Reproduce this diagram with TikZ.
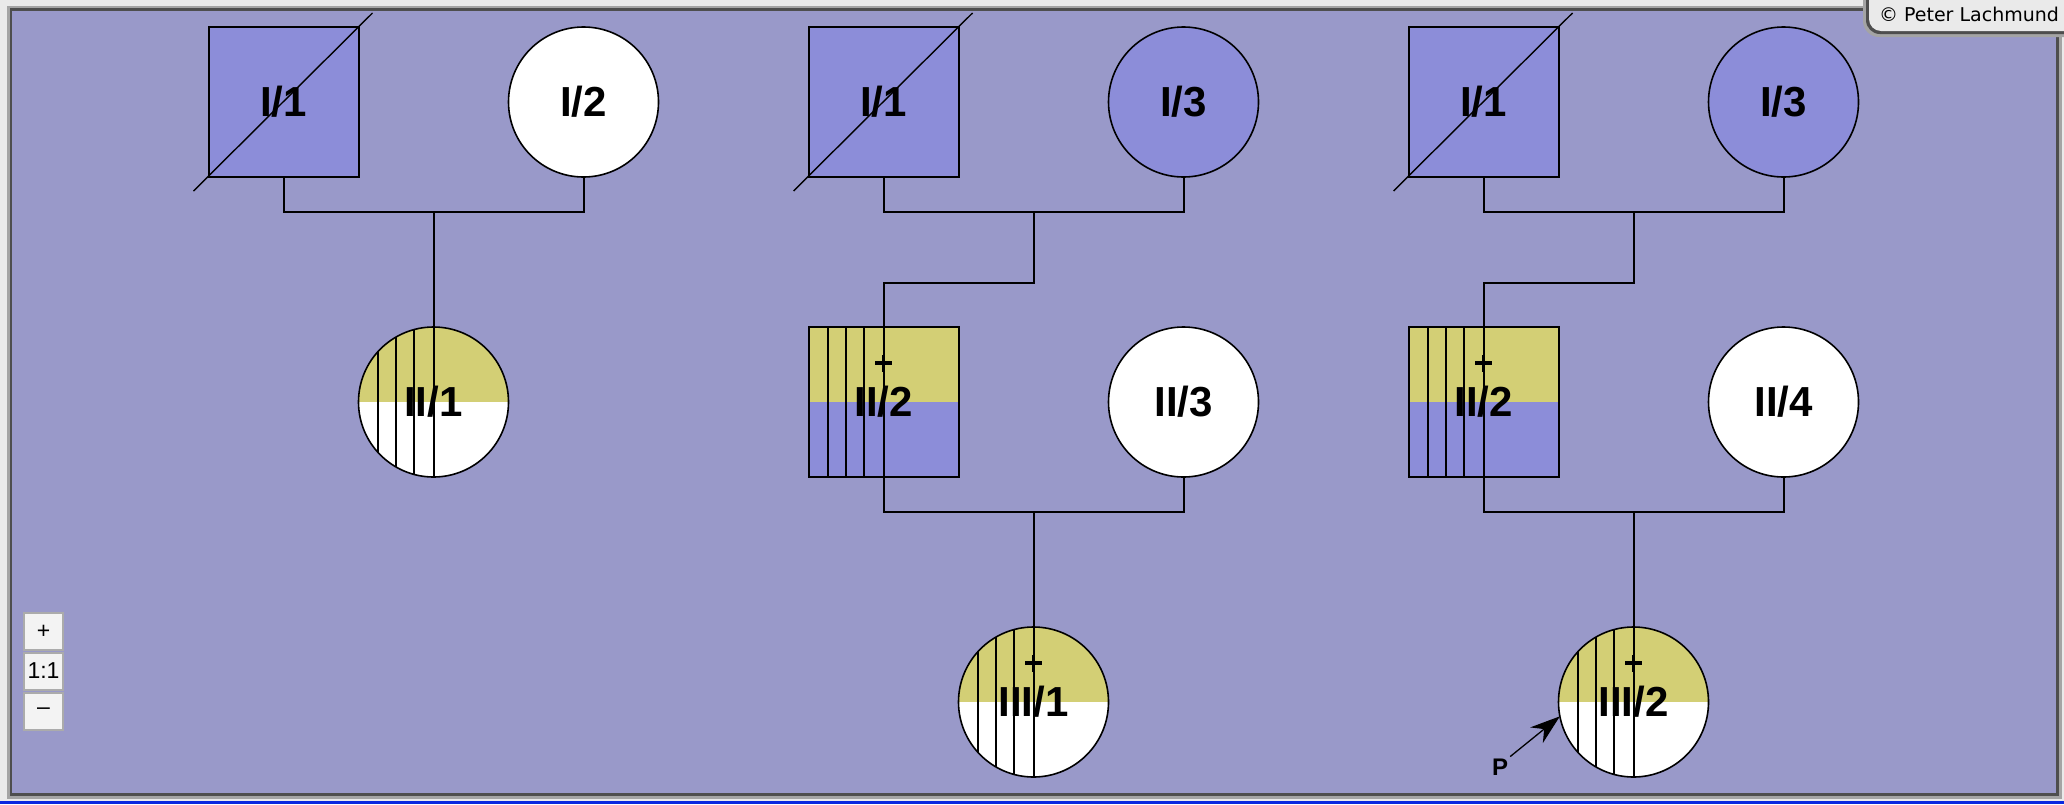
\documentclass[tikz,border=0pt]{standalone}
\usepackage{fontspec}
\setmainfont{Liberation Sans}
\newfontfamily\uifont{DejaVu Sans}
\usetikzlibrary{calc,arrows.meta}

\definecolor{pagebg}{HTML}{9999C9}
\definecolor{symblue}{HTML}{8C8DD9}
\definecolor{halfyellow}{HTML}{D3CF75}
\definecolor{framelight}{HTML}{EAEAEA}
\definecolor{framegray}{HTML}{A4A4A4}
\definecolor{framedark}{HTML}{4E4E4E}
\definecolor{btnborder}{HTML}{ABABAB}
\definecolor{btnfill}{HTML}{F3F3F3}
\definecolor{barblue}{HTML}{0A28E0}

\newcommand{\lbl}{\fontsize{42}{48}\selectfont\bfseries}

\begin{document}
\begin{tikzpicture}[x=1pt, y=-1pt,
    male/.style={rectangle, draw, line width=2pt, minimum size=150pt, inner sep=0pt, outer sep=0pt, font=\lbl},
    female/.style={circle, draw, line width=1.6pt, minimum size=150pt, inner sep=0pt, outer sep=0pt, font=\lbl},
    carrier/.style={path picture={
        \fill[halfyellow] (path picture bounding box.north west) rectangle (path picture bounding box.east);
        \foreach \d in {-56,-38,-20,0}
            \draw[line width=2pt] ([xshift=\d pt]path picture bounding box.north) -- ([xshift=\d pt]path picture bounding box.south);
    }},
    line/.style={line width=2pt},
    deceased/.style={line width=1.4pt},
    plusmark/.style={line width=3.4pt},
    zoombtn/.style={rectangle, draw=btnborder, line width=2pt, fill=btnfill, minimum width=39pt, minimum height=37pt, inner sep=0pt, font=\fontsize{23}{26}\selectfont}]

    % window frame
    \useasboundingbox (0,0) rectangle (2064,804);
    \fill[framelight] (0,0) rectangle (2064,804);
    \fill[framegray] (7,6) rectangle (2062,799);
    \fill[framedark] (10,8) rectangle (2059,796);
    \fill[pagebg] (12,11) rectangle (2056,793);
    \fill[barblue] (0,801) rectangle (2064,804);
    \fill[framegray, rounded corners=16] (1863,-20) -- (1863,37) -- (2090,37) -- (2090,-20) -- cycle;
    \fill[framedark, rounded corners=14] (1866,-20) -- (1866,34) -- (2090,34) -- (2090,-20) -- cycle;
    \fill[framelight, rounded corners=12] (1869,-20) -- (1869,31) -- (2090,31) -- (2090,-20) -- cycle;
    \node[anchor=base, inner sep=0pt, font=\uifont\fontsize{19}{22}\selectfont] (copy) at (1969,21) {© Peter Lachmund};

    % zoom buttons
    \node[zoombtn] (zin) at (43.5,631.5) {+};
    \node[zoombtn] (zone) at (43.5,671) {1:1};
    \node[zoombtn] (zout) at (43.5,711.5) {–};

    % first family
    \node[male, fill=symblue] (A11) at (283.5,102) {I/1};
    \node[female, fill=white] (A12) at (583.5,102) {I/2};
    \node[female, fill=white, carrier] (A21) at (433.5,402) {II/1};

    % second family
    \node[male, fill=symblue] (B11) at (883.5,102) {I/1};
    \node[female, fill=symblue] (B13) at (1183.5,102) {I/3};
    \node[male, fill=symblue, carrier] (B22) at (883.5,402) {II/2};
    \node[female, fill=white] (B23) at (1183.5,402) {II/3};
    \node[female, fill=white, carrier] (B31) at (1033.5,702) {III/1};

    % third family
    \node[male, fill=symblue] (C11) at (1483.5,102) {I/1};
    \node[female, fill=symblue] (C13) at (1783.5,102) {I/3};
    \node[male, fill=symblue, carrier] (C22) at (1483.5,402) {II/2};
    \node[female, fill=white] (C24) at (1783.5,402) {II/4};
    \node[female, fill=white, carrier] (C32) at (1633.5,702) {III/2};

    % deceased
    \foreach \n in {A11, B11, C11}{
        \draw[deceased] ($(\n)+(-90,89)$) -- ($(\n)+(89,-89)$);
    }

    % plus marks
    \foreach \n in {B22, B31, C22, C32}{
        \draw[plusmark] ($(\n)+(-8.5,-39)$) -- ($(\n)+(8.5,-39)$);
        \draw[plusmark] ($(\n)+(0,-47.5)$) -- ($(\n)+(0,-30.5)$);
    }

    % couples and children
    \draw[line] (A11.south) -- ++(0,35) -| (A12.south);
    \coordinate (A1m) at ($(A11.south)!0.5!(A12.south)+(0,35)$);
    \draw[line] (A1m) -- (A21.north);

    \draw[line] (B11.south) -- ++(0,35) -| (B13.south);
    \coordinate (B1m) at ($(B11.south)!0.5!(B13.south)+(0,35)$);
    \draw[line] (B1m) -- ++(0,71) -| (B22.north);
    \draw[line] (B22.south) -- ++(0,35) -| (B23.south);
    \coordinate (B2m) at ($(B22.south)!0.5!(B23.south)+(0,35)$);
    \draw[line] (B2m) -- (B31.north);

    \draw[line] (C11.south) -- ++(0,35) -| (C13.south);
    \coordinate (C1m) at ($(C11.south)!0.5!(C13.south)+(0,35)$);
    \draw[line] (C1m) -- ++(0,71) -| (C22.north);
    \draw[line] (C22.south) -- ++(0,35) -| (C24.south);
    \coordinate (C2m) at ($(C22.south)!0.5!(C24.south)+(0,35)$);
    \draw[line] (C2m) -- (C32.north);

    % proband
    \node[inner sep=2pt, font=\fontsize{24}{28}\selectfont\bfseries] (plab) at (1500,767) {P};
    \draw[line width=1.3pt, -{Stealth[length=30pt, width=20pt]}] (plab.north east) -- (C32.191);
\end{tikzpicture}
\end{document}
